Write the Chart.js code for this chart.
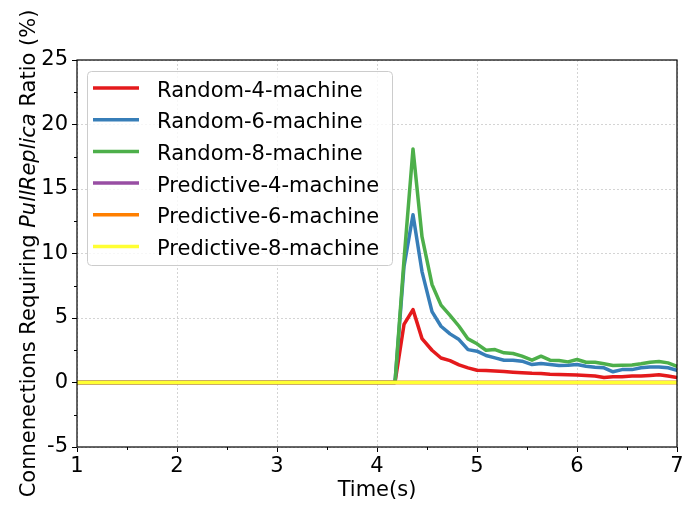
<!DOCTYPE html>
<html>
<head>
<meta charset="utf-8">
<script src="https://cdn.jsdelivr.net/npm/chart.js@4/dist/chart.umd.min.js"></script>
<style>
  html, body { margin: 0; padding: 0; background: #fff; }
  #wrap { width: 694px; height: 505px; }
</style>
</head>
<body>
<div id="wrap"><canvas id="chart" width="694" height="505"></canvas></div>
<script>
// time stamps (s)
let times = [1.00, 4.18, 4.27, 4.36, 4.45, 4.55, 4.64, 4.73, 4.82, 4.91, 5.00,
  5.09, 5.18, 5.27, 5.36, 5.45, 5.55, 5.64, 5.73, 5.82, 5.91, 6.00,
  6.09, 6.18, 6.27, 6.36, 6.45, 6.55, 6.64, 6.73, 6.82, 6.91, 7.00];

let random4 = [0, 0, 4.5, 5.65, 3.4, 2.5, 1.9, 1.7, 1.37, 1.13, 0.95,
  0.93, 0.9, 0.85, 0.8, 0.76, 0.72, 0.7, 0.64, 0.62, 0.6, 0.58,
  0.55, 0.5, 0.38, 0.45, 0.45, 0.5, 0.5, 0.55, 0.6, 0.5, 0.38];
let random6 = [0, 0, 9.0, 13.0, 8.6, 5.5, 4.36, 3.77, 3.33, 2.55, 2.43,
  2.09, 1.91, 1.73, 1.73, 1.65, 1.39, 1.47, 1.39, 1.32, 1.34, 1.39,
  1.26, 1.19, 1.14, 0.83, 1.0, 1.0, 1.14, 1.21, 1.21, 1.14, 0.95];
let random8 = [0, 0, 9.5, 18.1, 11.3, 7.6, 6.0, 5.2, 4.36, 3.38, 3.0,
  2.5, 2.55, 2.3, 2.25, 2.04, 1.73, 2.04, 1.73, 1.7, 1.6, 1.78,
  1.57, 1.57, 1.45, 1.32, 1.34, 1.36, 1.45, 1.57, 1.62, 1.52, 1.26];
let predictive4 = [0, 0, 0, 0, 0, 0, 0, 0, 0, 0, 0, 0, 0, 0, 0, 0, 0,
  0, 0, 0, 0, 0, 0, 0, 0, 0, 0, 0, 0, 0, 0, 0, 0];
let predictive6 = [0, 0, 0, 0, 0, 0, 0, 0, 0, 0, 0, 0, 0, 0, 0, 0, 0,
  0, 0, 0, 0, 0, 0, 0, 0, 0, 0, 0, 0, 0, 0, 0, 0];
let predictive8 = [0, 0, 0, 0, 0, 0, 0, 0, 0, 0, 0, 0, 0, 0, 0, 0, 0,
  0, 0, 0, 0, 0, 0, 0, 0, 0, 0, 0, 0, 0, 0, 0, 0];

let seriesNames = ["Random-4-machine", "Random-6-machine", "Random-8-machine",
  "Predictive-4-machine", "Predictive-6-machine", "Predictive-8-machine"];
let seriesColors = ["#e41a1c", "#377eb8", "#4daf4a", "#984ea3", "#ff7f00", "#ffff33"];
let seriesValues = [random4, random6, random8, predictive4, predictive6, predictive8];

let xTicks = [1, 2, 3, 4, 5, 6, 7];
let yTicks = [-5, 0, 5, 10, 15, 20, 25];
let xMinor = [1.5, 2.5, 3.5, 4.5, 5.5, 6.5];
let yMinor = [-2.5, 2.5, 7.5, 12.5, 17.5, 22.5];

const FONT = "'DejaVu Sans', 'Liberation Sans', sans-serif";

function toPoints(values) {
  return values.map((v, i) => ({ x: times[i], y: v }));
}

// box, minor ticks, legend and axis titles
const decorations = {
  id: "decorations",
  afterDatasetsDraw(chart) {
    let ctx = chart.ctx;
    let area = chart.chartArea;
    let xs = chart.scales.x;
    let ys = chart.scales.y;
    ctx.save();

    // frame
    ctx.strokeStyle = "#000";
    ctx.lineWidth = 1.2;
    ctx.strokeRect(area.left, area.top, area.right - area.left, area.bottom - area.top);

    // minor ticks
    ctx.lineWidth = 1;
    ctx.beginPath();
    xMinor.forEach((v) => {
      let px = Math.round(xs.getPixelForValue(v)) + 0.5;
      ctx.moveTo(px, area.bottom);
      ctx.lineTo(px, area.bottom + 3);
    });
    yMinor.forEach((v) => {
      let py = Math.round(ys.getPixelForValue(v)) + 0.5;
      ctx.moveTo(area.left, py);
      ctx.lineTo(area.left - 3, py);
    });
    ctx.stroke();

    // legend
    let lx = 87, ly = 71, lw = 305, lh = 194;
    ctx.beginPath();
    ctx.roundRect(lx + 0.5, ly + 0.5, lw, lh, 4);
    ctx.fillStyle = "rgba(255,255,255,0.8)";
    ctx.fill();
    ctx.strokeStyle = "#cccccc";
    ctx.lineWidth = 1;
    ctx.stroke();

    ctx.font = "21px " + FONT;
    ctx.textBaseline = "alphabetic";
    ctx.textAlign = "left";
    chart.data.datasets.forEach((ds, i) => {
      let y = 88 + i * 31.7;
      ctx.strokeStyle = ds.borderColor;
      ctx.lineWidth = 3.5;
      ctx.beginPath();
      ctx.moveTo(93, y);
      ctx.lineTo(139, y);
      ctx.stroke();
      ctx.fillStyle = "#000";
      ctx.fillText(ds.label, 157, y + 8.5);
    });

    // x title
    ctx.fillStyle = "#000";
    ctx.textAlign = "center";
    ctx.fillText("Time(s)", (area.left + area.right) / 2, 496);

    // y title, with italic PullReplica
    let parts = [
      ["Connenections Requiring ", "21px " + FONT],
      ["PullReplica", "italic 21px " + FONT],
      [" Ratio (%)", "21px " + FONT],
    ];
    let total = 0;
    parts.forEach((p) => {
      ctx.font = p[1];
      total += ctx.measureText(p[0]).width;
    });
    ctx.translate(34.5, (area.top + area.bottom) / 2);
    ctx.rotate(-Math.PI / 2);
    ctx.textAlign = "left";
    let x = -total / 2;
    parts.forEach((p) => {
      ctx.font = p[1];
      ctx.fillText(p[0], x, 0);
      x += ctx.measureText(p[0]).width;
    });
    ctx.restore();
  },
};

function drawChart() {
  // later series sit on top, as in the original plot
  let datasets = seriesNames.map((name, i) => ({
    label: name,
    data: toPoints(seriesValues[i]),
    order: seriesNames.length - i,
    borderColor: seriesColors[i],
    backgroundColor: seriesColors[i],
    borderWidth: 3.5,
    borderJoinStyle: "round",
    borderCapStyle: "round",
    pointRadius: 0,
    tension: 0,
    fill: false,
  }));

  let gridOpts = {
    color: "#d4d4d4",
    lineWidth: 1,
    tickLength: 5,
    tickColor: "#000",
    tickWidth: 1,
    tickBorderDash: [],
  };

  new Chart(document.getElementById("chart"), {
    type: "line",
    data: { datasets: datasets },
    options: {
      responsive: false,
      devicePixelRatio: 1,
      animation: false,
      layout: { padding: { top: 60, right: 17, left: 0, bottom: 0 } },
      plugins: { legend: { display: false }, tooltip: { enabled: false } },
      scales: {
        x: {
          type: "linear",
          min: xTicks[0],
          max: xTicks[xTicks.length - 1],
          afterBuildTicks: (s) => { s.ticks = xTicks.map((v) => ({ value: v })); },
          afterFit: (s) => { s.height = 58; },
          ticks: { color: "#000", font: { family: FONT, size: 21 }, padding: 2, maxRotation: 0 },
          grid: gridOpts,
          border: { display: false, dash: [2, 2] },
        },
        y: {
          min: yTicks[0],
          max: yTicks[yTicks.length - 1],
          afterBuildTicks: (s) => { s.ticks = yTicks.map((v) => ({ value: v })); },
          afterFit: (s) => { s.width = 77; },
          ticks: { color: "#000", font: { family: FONT, size: 21 }, padding: 4 },
          grid: gridOpts,
          border: { display: false, dash: [2, 2] },
        },
      },
    },
    plugins: [decorations],
  });
}

drawChart();
</script>
</body>
</html>
